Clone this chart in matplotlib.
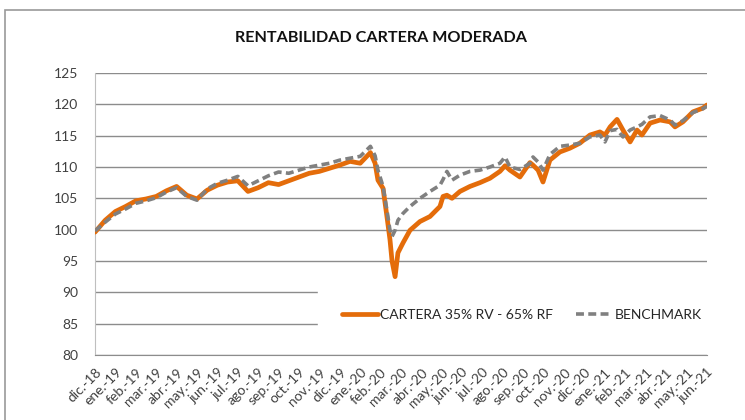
#!/usr/bin/env python
import matplotlib
matplotlib.use('Agg')
import matplotlib.pyplot as plt
from matplotlib.patches import Rectangle

FONT = ['Lato', 'DejaVu Sans']

# x positions in months from dic.-18
months = [0, 0.5, 1.0, 1.5, 2.0, 2.5, 3.0, 3.5, 4.0, 4.5,
          5.0, 5.5, 6.0, 6.5, 7.0, 7.5, 8.0, 8.5, 9.0, 9.5,
          10.0, 10.5, 11.0, 11.5, 12.0, 12.5, 13.0, 13.5, 13.73, 13.87,
          14.12, 14.31, 14.46, 14.56, 14.71, 14.85, 15.10, 15.44, 15.93, 16.42,
          16.91, 17.06, 17.25, 17.50, 17.89, 18.38, 18.87, 19.36, 19.85, 20.10,
          20.34, 20.83, 21.32, 21.47, 21.72, 21.96, 22.30, 22.79, 23.28, 23.77,
          24.26, 24.75, 25.00, 25.25, 25.59, 25.88, 26.23, 26.57, 26.81, 27.21,
          27.70, 28.19, 28.43, 28.82, 29.31, 29.80, 30.0]

cartera = [99.6, 101.5, 102.9, 103.7, 104.6, 104.9, 105.3, 106.2, 106.9, 105.5,
           104.9, 106.3, 107.1, 107.6, 107.8, 106.1, 106.7, 107.5, 107.2, 107.8,
           108.4, 109.0, 109.3, 109.8, 110.3, 110.9, 110.6, 112.3, 110.6, 107.9,
           106.6, 102.1, 98.4, 95.0, 92.5, 96.3, 97.9, 99.9, 101.3, 102.1,
           103.7, 105.3, 105.5, 105.0, 106.1, 106.9, 107.5, 108.2, 109.3, 110.2,
           109.5, 108.4, 110.7, 110.3, 109.5, 107.6, 111.1, 112.4, 113.0, 113.8,
           115.1, 115.6, 115.1, 116.4, 117.6, 115.9, 114.0, 115.9, 115.1, 117.0,
           117.5, 117.2, 116.4, 117.2, 118.8, 119.4, 119.9]

benchmark = [99.8, 101.2, 102.5, 103.3, 104.2, 104.6, 105.1, 106.0, 106.7, 105.3,
             104.7, 106.5, 107.4, 107.9, 108.5, 107.0, 107.8, 108.6, 109.2, 109.0,
             109.5, 110.0, 110.3, 110.6, 111.1, 111.4, 111.7, 113.3, 111.8, 109.5,
             106.9, 103.1, 99.9, 98.9, 99.9, 101.5, 102.6, 103.7, 105.0, 106.1,
             107.1, 108.0, 109.3, 107.9, 108.7, 109.3, 109.5, 110.0, 110.6, 111.6,
             110.0, 109.6, 110.6, 111.6, 110.8, 109.5, 112.0, 113.3, 113.5, 113.8,
             114.8, 115.1, 114.0, 115.8, 116.0, 114.8, 115.9, 116.4, 116.8, 118.0,
             118.2, 117.5, 116.7, 117.4, 118.7, 119.3, 119.7]

tick_labels = ['dic.-18', 'ene.-19', 'feb.-19', 'mar.-19', 'abr.-19', 'may.-19',
               'jun.-19', 'jul.-19', 'ago.-19', 'sep.-19', 'oct.-19', 'nov.-19',
               'dic.-19', 'ene.-20', 'feb.-20', 'mar.-20', 'abr.-20', 'may.-20',
               'jun.-20', 'jul.-20', 'ago.-20', 'sep.-20', 'oct.-20', 'nov.-20',
               'dic.-20', 'ene.-21', 'feb.-21', 'mar.-21', 'abr.-21', 'may.-21',
               'jun.-21']

fig = plt.figure(figsize=(7.45, 4.2), dpi=100)
ax = fig.add_axes([95 / 745, 65 / 420, 612 / 745, 282 / 420])

ax.plot(months, cartera, color='#E46C0A', linewidth=3.4,
        label='CARTERA 35% RV - 65% RF', zorder=3, solid_capstyle='round')
ax.plot(months, benchmark, color='#808080', linewidth=2.6,
        dashes=(2.2, 1.2), label='BENCHMARK', zorder=4)

ax.set_xlim(0, 30)
ax.set_ylim(80, 125)
ax.set_yticks(range(80, 126, 5))
ax.set_xticks(range(len(tick_labels)))
ax.set_xticklabels(tick_labels, rotation=45, ha='right', rotation_mode='anchor',
                   fontsize=10, family=FONT, color='#404040')
for lab in ax.get_yticklabels():
    lab.set_family(FONT)
    lab.set_fontsize(10)
    lab.set_color('#404040')

ax.tick_params(axis='both', length=0)
ax.tick_params(axis='y', pad=12)
ax.tick_params(axis='x', pad=8)
ax.grid(axis='y', color='#8c8c8c', linewidth=1.0)
ax.set_axisbelow(True)
for side in ['top', 'right']:
    ax.spines[side].set_visible(False)
ax.spines['left'].set_color('#bfbfbf')
ax.spines['bottom'].set_color('#8c8c8c')

leg = ax.legend(loc='center left', bbox_to_anchor=(318 / 745, 1 - 315 / 420),
                bbox_transform=fig.transFigure, ncol=2, frameon=True,
                fancybox=False, borderpad=1.7, handlelength=2.6,
                handletextpad=0.2, columnspacing=1.6, borderaxespad=0,
                prop={'family': FONT, 'size': 10})
leg.get_frame().set_facecolor('white')
leg.get_frame().set_edgecolor('white')
leg.get_frame().set_alpha(1)
for t in leg.get_texts():
    t.set_color('#262626')

fig.text(381 / 745, 1 - 38 / 420, 'RENTABILIDAD CARTERA MODERADA',
         ha='center', va='center', fontsize=11.6, fontweight='bold',
         family=FONT, color='#111111')

fig.patches.append(Rectangle((5 / 745, -0.1), 1.2, 1 - 10 / 420 + 0.1,
                             transform=fig.transFigure, fill=False,
                             edgecolor='#9a9a9a', linewidth=1.2))

fig.savefig('out.png', dpi=100)
